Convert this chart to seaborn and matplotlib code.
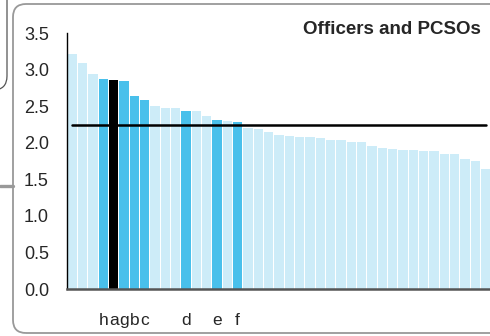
import matplotlib
matplotlib.use("Agg")
import matplotlib.pyplot as plt
import matplotlib.patches as mpatches
import matplotlib.lines as mlines
from matplotlib.transforms import IdentityTransform
import seaborn as sns
import pandas as pd

# values, sorted high to low
values = [3.21, 3.09, 2.94, 2.87, 2.86, 2.84, 2.64, 2.58, 2.50, 2.47,
          2.47, 2.43, 2.43, 2.37, 2.31, 2.30, 2.28, 2.20, 2.19, 2.15,
          2.11, 2.09, 2.08, 2.08, 2.06, 2.04, 2.04, 2.01, 2.01, 1.96,
          1.93, 1.91, 1.90, 1.90, 1.89, 1.89, 1.85, 1.85, 1.78, 1.75,
          1.64]
labels = ["", "", "", "h", "a", "g", "b", "c", "", "",
          "", "d", "", "", "e", "", "f", "", "", "",
          "", "", "", "", "", "", "", "", "", "",
          "", "", "", "", "", "", "", "", "", "",
          ""]
selected = "a"
average = 2.24

light_blue = "#cdecf8"
mid_blue = "#49c0eb"

df = pd.DataFrame({"pos": range(len(values)), "value": values, "label": labels})
colors = []
for lab in labels:
    if lab == selected:
        colors.append("black")
    elif lab:
        colors.append(mid_blue)
    else:
        colors.append(light_blue)

sns.set_style("white")
plt.rcParams['font.family'] = ['Liberation Sans', 'DejaVu Sans']

fig = plt.figure(figsize=(4.9, 3.36), dpi=100)
W, H = 490, 336
ax = fig.add_axes([67 / W, 1 - 289 / H, 423 / W, 256 / H])

sns.barplot(data=df, x="pos", y="value", hue="pos", palette=colors,
            legend=False, width=0.9, saturation=1, ax=ax, linewidth=0)

# average line from first to last bar
ax.plot([0, len(values) - 1], [average, average], color="black", lw=1.8, zorder=5)

ax.set_xlim(-0.52, len(values) - 1 + 0.43)
ax.set_ylim(0, 3.5)
ax.set_yticks([0, 0.5, 1.0, 1.5, 2.0, 2.5, 3.0, 3.5])
ax.set_yticklabels([f"{t:.1f}" for t in ax.get_yticks()])
ax.set_xticks(range(len(values)))
ax.set_xticklabels(labels)
ax.set_xlabel("")
ax.set_ylabel("")
ax.tick_params(axis="x", length=0, pad=17, labelsize=12.5)
ax.tick_params(axis="y", length=6, width=1, color="#555555", pad=7, labelsize=13)

for side in ["top", "right"]:
    ax.spines[side].set_visible(False)
ax.spines["left"].set_color("black")
ax.spines["left"].set_linewidth(1)
ax.spines["bottom"].set_color("#555555")
ax.spines["bottom"].set_linewidth(1.8)
ax.patch.set_alpha(0)

fig.text(481 / W, 1 - 29 / H, "Officers and PCSOs", ha="right", va="center",
         fontsize=13.5, fontweight="bold")

# page frame decorations
frame = mpatches.FancyBboxPatch((13, 3), 520, 329,
                                boxstyle="round,pad=0,rounding_size=13",
                                transform=IdentityTransform(), fill=False,
                                edgecolor="#999999", lw=1.3)
fig.patches.append(frame)
side_box = mpatches.FancyBboxPatch((-60, H - 90), 67, 200,
                                   boxstyle="round,pad=0,rounding_size=14",
                                   transform=IdentityTransform(), fill=False,
                                   edgecolor="#555555", lw=0.9)
fig.patches.append(side_box)
fig.lines.append(mlines.Line2D([0, 13], [H - 185.5, H - 185.5],
                               transform=IdentityTransform(),
                               color="#999999", lw=2.4))

fig.savefig("out.png", dpi=100)
